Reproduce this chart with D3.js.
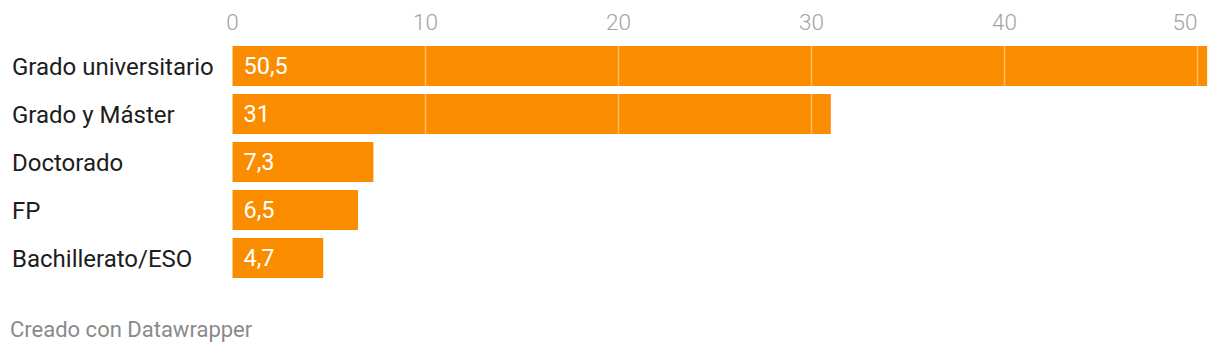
<!DOCTYPE html>
<html><head><meta charset="utf-8">
<script src="https://cdn.jsdelivr.net/npm/d3@7"></script>
<style>
body{margin:0;background:#fff;}
text{font-family:Roboto,"Noto Sans",sans-serif;}
</style></head>
<body>
<svg id="chart" width="1220" height="354"></svg>
<script>
const categories = ["Grado universitario","Grado y Máster","Doctorado","FP","Bachillerato/ESO"];
const values = [50.5, 31, 7.3, 6.5, 4.7];
const valueLabels = ["50,5","31","7,3","6,5","4,7"];
const ticks = [0,10,20,30,40,50];

const svg = d3.select("#chart");
const x = d3.scaleLinear().domain([0,50]).range([232.5,1197.5]);
const y = d3.scaleBand().domain(categories).range([42,282]).paddingInner(8/48).paddingOuter(4/48);

// tick labels
svg.append("g").selectAll("text").data(ticks).join("text")
  .attr("x", d=>x(d)).attr("y", 30)
  .attr("text-anchor",(d,i)=> i===ticks.length-1 ? "end" : "middle")
  .attr("fill","#a3a3a3").attr("font-size",22.5).attr("font-weight",300).text(d=>d);

// bars
svg.append("g").selectAll("rect").data(values).join("rect")
  .attr("x", x(0)).attr("y",(d,i)=>y(categories[i]))
  .attr("width", d=>x(d)-x(0)).attr("height", y.bandwidth())
  .attr("fill","#fa8c00");

// gridlines on top of bars
svg.append("g").selectAll("line").data(ticks.filter(t=>t>0)).join("line")
  .attr("x1",d=>x(d)).attr("x2",d=>x(d)).attr("y1",y.range()[0]).attr("y2",y.range()[1])
  .attr("stroke","#fff").attr("stroke-opacity",0.4).attr("stroke-width",1.5);

// category labels
svg.append("g").selectAll("text").data(categories).join("text")
  .attr("x",12).attr("y",d=>y(d)+y.bandwidth()/2).attr("dy","0.36em")
  .attr("fill","#1d1d1d").attr("font-size",24).text(d=>d);

// value labels
svg.append("g").selectAll("text").data(valueLabels).join("text")
  .attr("x",x(0)+11).attr("y",(d,i)=>y(categories[i])+y.bandwidth()/2).attr("dy","0.36em")
  .attr("fill","#fff").attr("font-size",23.5).text(d=>d);

svg.append("text").attr("x",10).attr("y",337).attr("fill","#8a8a8a")
  .attr("font-size",22).text("Creado con Datawrapper");
</script>
</body></html>
